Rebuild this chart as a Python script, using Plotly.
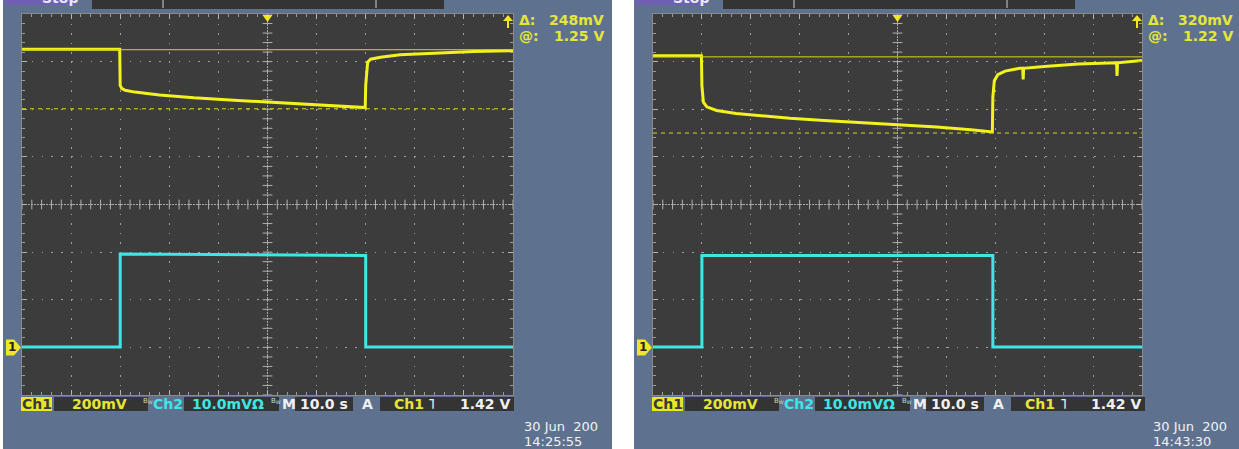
import plotly.graph_objects as go

W, H = 1239, 449

# ---------------- data ----------------
# time in seconds (10 s/div, 10 divisions), Ch1 in volts (200 mV/div), Ch2 in mV (10 mV/div)
t_left_ch1 = [0, 19.9, 20.0, 20.3, 21, 23, 28, 35, 44, 53, 61, 66, 69.9, 70.0, 70.4, 71, 73, 77, 85, 92, 100]
v_left_ch1 = [1.252, 1.252, 1.10, 1.088, 1.080, 1.072, 1.060, 1.048, 1.037, 1.027, 1.019, 1.013, 1.007,
              1.100, 1.198, 1.210, 1.218, 1.229, 1.237, 1.242, 1.246]
t_left_ch2 = [0, 20.0, 20.0, 70.0, 70.0, 100]
mv_left_ch2 = [0.1, 0.1, 19.6, 19.3, 0.1, 0.1]

t_right_ch1 = [0, 9.9, 10.0, 10.3, 11, 13, 17, 22, 28, 35, 42, 50, 58, 65, 69.4, 69.5, 69.8, 70.5,
               72, 75, 75.6, 75.7, 75.8, 80, 87, 94.8, 94.9, 95.0, 100]
v_right_ch1 = [1.225, 1.225, 1.10, 1.030, 1.010, 0.995, 0.982, 0.972, 0.962, 0.953, 0.945, 0.935, 0.925,
               0.914, 0.905, 1.050, 1.120, 1.145, 1.160, 1.172, 1.172, 1.125, 1.172, 1.180, 1.190, 1.195,
               1.140, 1.195, 1.205]
t_right_ch2 = [0, 10.0, 10.0, 69.5, 69.5, 100]
mv_right_ch2 = [0.1, 0.1, 19.3, 19.3, 0.1, 0.1]

cursor_at = [1.25, 1.22]          # V
cursor_delta = [0.248, 0.320]     # V
cursor_at_text = ["1.25 V", "1.22 V"]
cursor_delta_text = ["248mV", "320mV"]
date_text = ["30 Jun  200", "30 Jun  200"]
time_text = ["14:25:55", "14:43:30"]
status_ch1_scale = "200mV"
status_ch2_scale = "10.0mVΩ"
status_time = "10.0 s"
status_trig = "1.42 V"

# ---------------- style ----------------
FRAME = "#5e7290"
PLOTBG = "#3c3c3c"
BOX = "#343434"
YEL = "#f2f21e"
YEL_T = "#e6e63a"
CYAN = "#3fe6e6"
GRID = "#a0a0a0"
FONT = "DejaVu Sans"


def px(x):
    return x / W


def py(y):
    return 1 - y / H


def ch1_div(v):
    return v / 0.2 - 3


def ch2_div(mv):
    return mv / 10.0 - 3


panels = [
    dict(frame=(3, 612), plot=(22, 513), shift=0,
         t1=t_left_ch1, v1=v_left_ch1, t2=t_left_ch2, m2=mv_left_ch2),
    dict(frame=(634, 1239), plot=(653, 1142), shift=631,
         t1=t_right_ch1, v1=v_right_ch1, t2=t_right_ch2, m2=mv_right_ch2),
]
PLOT_TOP, PLOT_BOT = 14, 395

fig = go.Figure()
shapes = []
ann = []


def rect(x0, y0, x1, y1, color, line=None):
    shapes.append(dict(type="rect", xref="paper", yref="paper", x0=px(x0), x1=px(x1),
                       y0=py(y1), y1=py(y0), fillcolor=color,
                       line=dict(width=0) if line is None else line, layer="below"))


def text(x, y, s, color, size=14, bold=True, xanchor="left"):
    ann.append(dict(xref="paper", yref="paper", x=px(x), y=py(y), text=f"<b>{s}</b>" if bold else s,
                    showarrow=False, xanchor=xanchor, yanchor="middle",
                    font=dict(family=FONT, size=size, color=color)))


for i, p in enumerate(panels):
    ax = "" if i == 0 else str(i + 1)
    s = p["shift"]
    fx0, fx1 = p["frame"]
    x0, x1 = p["plot"]
    # frame and plot area
    rect(fx0, 0, fx1, H, FRAME)
    rect(x0, PLOT_TOP, x1, PLOT_BOT, PLOTBG)
    # top bar ("Stop" tab + dark boxes)
    rect(5 + s, -4, 76 + s, 5, "#6f5fb5")
    text(40 + s, -2, "Stop", "#e8e8f0", size=14)
    rect(92 + s, -2, 444 + s, 9, BOX)
    for bx in (163 + s, 376 + s):
        shapes.append(dict(type="line", xref="paper", yref="paper", x0=px(bx), x1=px(bx),
                           y0=py(0), y1=py(8), line=dict(color="#cfcfcf", width=1)))

    # axes
    fig.layout[f"xaxis{ax}"] = dict(domain=[px(x0), px(x1)], range=[0, 100], dtick=10,
                                    showgrid=True, gridcolor=GRID, gridwidth=1, griddash="1.5px,8px",
                                    showticklabels=False, zeroline=False, ticks="inside", ticklen=5,
                                    tickcolor="#b4b4b4", mirror="ticks", showline=True,
                                    linecolor="#8a8a8a", linewidth=1,
                                    minor=dict(dtick=2, ticks="inside", ticklen=3, tickcolor="#9a9a9a"),
                                    anchor=f"y{ax}", fixedrange=True)
    fig.layout[f"yaxis{ax}"] = dict(domain=[py(PLOT_BOT), py(PLOT_TOP)], range=[-4, 4], dtick=1,
                                    showgrid=True, gridcolor=GRID, gridwidth=1, griddash="1.5px,8.3px",
                                    showticklabels=False, zeroline=False, ticks="inside", ticklen=5,
                                    tickcolor="#b4b4b4", mirror="ticks", showline=True,
                                    linecolor="#8a8a8a", linewidth=1,
                                    minor=dict(dtick=0.2, ticks="inside", ticklen=3, tickcolor="#9a9a9a"),
                                    anchor=f"x{ax}", fixedrange=True)

    xr, yr = f"x{ax}", f"y{ax}"
    # centre cross
    shapes.append(dict(type="line", xref=f"{xr} domain", yref=yr, x0=0, x1=1, y0=0, y1=0,
                       line=dict(color="#a8a8a8", width=1, dash="2px,1px"), layer="below"))
    shapes.append(dict(type="line", xref=xr, yref=f"{yr} domain", x0=50, x1=50, y0=0, y1=1,
                       line=dict(color="#a8a8a8", width=1, dash="2px,1px"), layer="below"))
    minor_t = [k * 2 for k in range(51)]
    minor_v = [-4 + k * 0.2 for k in range(41)]
    fig.add_trace(go.Scatter(x=minor_t, y=[0] * len(minor_t), mode="markers", xaxis=xr, yaxis=yr,
                             marker=dict(symbol="line-ns", size=7, line=dict(color="#b0b0b0", width=1)),
                             hoverinfo="skip", showlegend=False))
    fig.add_trace(go.Scatter(x=[50] * len(minor_v), y=minor_v, mode="markers", xaxis=xr, yaxis=yr,
                             marker=dict(symbol="line-ew", size=7, line=dict(color="#b0b0b0", width=1)),
                             hoverinfo="skip", showlegend=False))

    # cursors
    for val, dash in ((cursor_at[i], "solid"), (cursor_at[i] - cursor_delta[i], "dash")):
        shapes.append(dict(type="line", xref=f"{xr} domain", yref=yr, x0=0, x1=1,
                           y0=ch1_div(val), y1=ch1_div(val),
                           line=dict(color="#d8d820", width=1, dash=dash if dash == "solid" else "4px,4px")))

    # traces
    fig.add_trace(go.Scatter(x=p["t2"], y=[ch2_div(m) for m in p["m2"]], mode="lines", xaxis=xr, yaxis=yr,
                             line=dict(color=CYAN, width=3), showlegend=False, name="Ch2"))
    fig.add_trace(go.Scatter(x=p["t1"], y=[ch1_div(v) for v in p["v1"]], mode="lines", xaxis=xr, yaxis=yr,
                             line=dict(color=YEL, width=3), showlegend=False, name="Ch1"))

    # markers: ground "1", trigger position, trigger level arrow
    gy = PLOT_BOT - (PLOT_BOT - PLOT_TOP) / 8 * 1
    gx = x0 - 1
    shapes.append(dict(type="path", xref="paper", yref="paper",
                       path=f"M {px(gx-15)} {py(gy-8)} L {px(gx-7)} {py(gy-8)} L {px(gx)} {py(gy)} "
                            f"L {px(gx-7)} {py(gy+8)} L {px(gx-15)} {py(gy+8)} Z",
                       fillcolor="#f0e628", line=dict(width=0)))
    ann.append(dict(xref="paper", yref="paper", x=px(gx - 9), y=py(gy), text="<b>1</b>",
                    showarrow=False, xanchor="center", yanchor="middle",
                    font=dict(family=FONT, size=12, color="#222222")))
    cx = (x0 + x1) / 2
    shapes.append(dict(type="path", xref="paper", yref="paper",
                       path=f"M {px(cx-5)} {py(PLOT_TOP+1)} L {px(cx+5)} {py(PLOT_TOP+1)} L {px(cx)} {py(PLOT_TOP+8)} Z",
                       fillcolor="#f0e628", line=dict(width=0)))
    ax_ = x1 - 5
    shapes.append(dict(type="path", xref="paper", yref="paper",
                       path=f"M {px(ax_)} {py(PLOT_TOP+1)} L {px(ax_-5)} {py(PLOT_TOP+7)} L {px(ax_+5)} {py(PLOT_TOP+7)} Z",
                       fillcolor="#f0e628", line=dict(width=0)))
    shapes.append(dict(type="line", xref="paper", yref="paper", x0=px(ax_), x1=px(ax_),
                       y0=py(PLOT_TOP + 6), y1=py(PLOT_TOP + 14), line=dict(color="#f0e628", width=2)))

    # cursor read-outs
    text(x1 + 4, 20, "Δ:", YEL_T)
    text(x1 + 4, 36, "@:", YEL_T)
    text(x1 + 93, 20, cursor_delta_text[i], YEL_T, xanchor="right")
    text(x1 + 93, 36, cursor_at_text[i], YEL_T, xanchor="right")

    # status bar
    sy0, sy1, sc = 397, 411, 404
    rect(21 + s, sy0, 52 + s, sy1, "#e8e820")
    text(36.5 + s, sc, "Ch1", "#3a3a3a", xanchor="center")
    rect(54 + s, sy0, 148 + s, sy1, BOX)
    text(70 + s, sc, status_ch1_scale, YEL_T)
    text(141 + s, sc - 3, "B<sub>W</sub>", "#d8d8a0", size=7, bold=False)
    text(151 + s, sc, "Ch2", CYAN)
    rect(184 + s, sy0, 279 + s, sy1, BOX)
    text(190 + s, sc, status_ch2_scale, CYAN)
    text(269 + s, sc - 3, "B<sub>W</sub>", "#b0e0e0", size=7, bold=False)
    text(280 + s, sc, "M", "#f0f0f0")
    rect(295 + s, sy0, 353 + s, sy1, BOX)
    text(324 + s, sc, status_time, "#f0f0f0", xanchor="center")
    text(367 + s, sc, "A", "#f0f0f0", xanchor="center")
    rect(380 + s, sy0, 514 + s, sy1, BOX)
    text(392 + s, sc, "Ch1", YEL_T)
    text(432 + s, sc, "˥", "#f0f0f0", xanchor="center")
    text(512 + s, sc, status_trig, "#f0f0f0", xanchor="right")

    # date / time stamp
    text(x1 + 9, 426, date_text[i], "#f2f2f2", size=13, bold=False)
    text(x1 + 9, 441, time_text[i], "#f2f2f2", size=13, bold=False)

fig.update_layout(width=W, height=H, margin=dict(l=0, r=0, t=0, b=0), autosize=False,
                  paper_bgcolor="white", plot_bgcolor="rgba(0,0,0,0)",
                  shapes=shapes, annotations=ann, showlegend=False)

fig.write_html("out.html", config={"displayModeBar": False, "staticPlot": True},
               post_script="document.body.style.margin='0px';document.body.style.overflow='hidden';")
